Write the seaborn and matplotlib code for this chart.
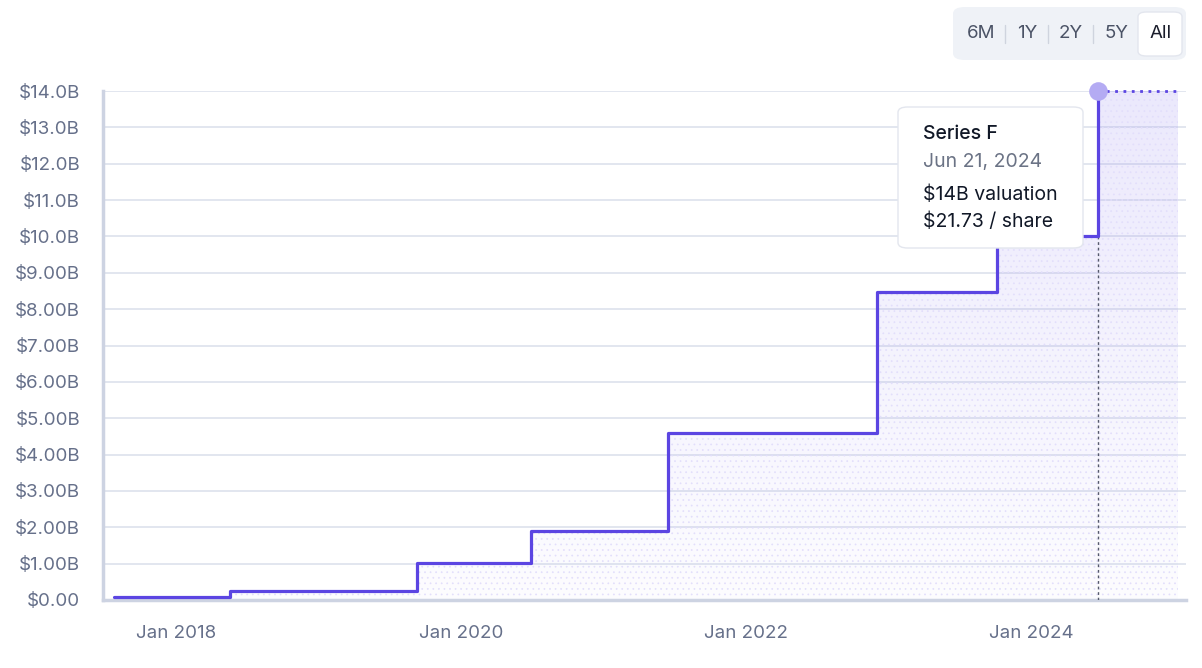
import numpy as np
import pandas as pd
import seaborn as sns
import matplotlib.pyplot as plt
import matplotlib.dates as mdates
from matplotlib.patches import FancyBboxPatch
from matplotlib.colors import to_rgb

# Funding rounds (post-money valuation, $B)
round_dates = ['2017-07-26', '2018-05-19', '2019-09-10', '2020-06-28',
               '2021-06-15', '2022-12-03', '2023-10-06', '2024-06-21']
valuations = [0.07, 0.25, 1.03, 1.90, 4.58, 8.48, 10.0, 14.0]
projection_end = '2025-01-12'

y_ticks = list(range(0, 15))
y_labels = ['$0.00', '$1.00B', '$2.00B', '$3.00B', '$4.00B', '$5.00B', '$6.00B',
            '$7.00B', '$8.00B', '$9.00B', '$10.0B', '$11.0B', '$12.0B', '$13.0B', '$14.0B']
x_tick_dates = ['2018-01-01', '2020-01-01', '2022-01-01', '2024-01-01']
x_tick_labels = ['Jan 2018', 'Jan 2020', 'Jan 2022', 'Jan 2024']
x_range = ['2017-06-28', '2025-02-01']

tooltip_title = 'Series F'
tooltip_date = 'Jun 21, 2024'
tooltip_lines = ['$14B valuation', '$21.73 / share']
range_buttons = ['6M', '1Y', '2Y', '5Y', 'All']

PURPLE = '#5b45e2'
GRID = '#dde1ec'
SPINE = '#cdd3e2'
LABEL = '#66708a'

sns.set_theme(style='white')
plt.rcParams['font.family'] = ['Inter', 'DejaVu Sans']
plt.rcParams['hatch.linewidth'] = 0.5

df = pd.DataFrame({'date': pd.to_datetime(round_dates), 'valuation': valuations})
proj = pd.DataFrame({'date': pd.to_datetime([round_dates[-1], projection_end]),
                     'valuation': [valuations[-1], valuations[-1]]})

fig = plt.figure(figsize=(12.02, 6.68), dpi=100)
ax = fig.add_axes([103 / 1202, 68 / 668, (1186 - 103) / 1202, (600 - 91) / 668])

# gradient fill under the step curve
fill_x = list(df['date']) + [pd.Timestamp(projection_end)]
fill_y = valuations + [valuations[-1]]
poly = ax.fill_between(fill_x, fill_y, step='post', facecolor='none', edgecolor='none')
r, g, b = to_rgb('#8b7bf0')
grad = np.zeros((256, 2, 4))
grad[..., 0], grad[..., 1], grad[..., 2] = r, g, b
grad[..., 3] = np.linspace(0.17, 0.02, 256)[:, None]
xl = mdates.date2num(pd.to_datetime(x_range))
im = ax.imshow(grad, extent=[xl[0], xl[1], 0, 14], origin='upper', aspect='auto', zorder=1)
im.set_clip_path(poly.get_paths()[0], transform=ax.transData)
ax.fill_between(fill_x, fill_y, step='post', facecolor='none', edgecolor='#e2defb',
                hatch='...', linewidth=0, zorder=1)

sns.lineplot(data=df, x='date', y='valuation', ax=ax, color=PURPLE, linewidth=2.3,
             drawstyle='steps-post', estimator=None, sort=False, zorder=4, clip_on=False)
sns.lineplot(data=proj, x='date', y='valuation', ax=ax, color=PURPLE, linewidth=2,
             linestyle=(0, (1, 2)), estimator=None, sort=False, zorder=4, clip_on=False)

last = df.iloc[-1]
ax.axvline(last['date'], ymin=0, ymax=1, color='#55596b', linewidth=1,
           linestyle=(0, (2, 2)), zorder=3)
ax.scatter([last['date']], [last['valuation']], s=180, color='#b4abf3', zorder=5,
           clip_on=False, linewidths=0)

ax.set_xlim(pd.to_datetime(x_range))
ax.set_ylim(0, 14)
ax.set_yticks(y_ticks)
ax.set_yticklabels(y_labels)
ax.set_xticks(pd.to_datetime(x_tick_dates))
ax.set_xticklabels(x_tick_labels)
ax.set_xlabel('')
ax.set_ylabel('')
ax.grid(axis='y', color=GRID, linewidth=1.2, zorder=0)
ax.set_axisbelow(True)
for s in ['top', 'right']:
    ax.spines[s].set_visible(False)
for s in ['left', 'bottom']:
    ax.spines[s].set_color(SPINE)
    ax.spines[s].set_linewidth(2.5)
ax.tick_params(axis='y', length=8.5, width=1.2, color=GRID, pad=8, labelsize=13.5, labelcolor=LABEL)
ax.tick_params(axis='x', length=9, width=1.2, color=SPINE, pad=9, labelsize=13.5, labelcolor=LABEL)

# tooltip
fig.patches.append(FancyBboxPatch((898 / 1202, (668 - 248) / 668), 185 / 1202, 141 / 668,
                                  boxstyle='round,pad=0,rounding_size=0.008',
                                  transform=fig.transFigure, facecolor='white',
                                  edgecolor='#e3e6ee', linewidth=1, zorder=10))
tx = 923 / 1202
fig.text(tx, 1 - 134 / 668, tooltip_title, fontsize=14, color='#111827',
         weight='medium', va='center', zorder=11)
fig.text(tx, 1 - 162 / 668, tooltip_date, fontsize=14, color='#6b7385', va='center', zorder=11)
for i, line in enumerate(tooltip_lines):
    fig.text(tx, 1 - (195 + 27 * i) / 668, line, fontsize=14, color='#111827',
             va='center', zorder=11)

# range buttons
fig.patches.append(FancyBboxPatch((953 / 1202, (668 - 60) / 668), 233 / 1202, 53 / 668,
                                  boxstyle='round,pad=0,rounding_size=0.01',
                                  transform=fig.transFigure, facecolor='#eff2f7',
                                  edgecolor='none', zorder=10))
fig.patches.append(FancyBboxPatch((1138 / 1202, (668 - 56) / 668), 44 / 1202, 44 / 668,
                                  boxstyle='round,pad=0,rounding_size=0.007',
                                  transform=fig.transFigure, facecolor='white',
                                  edgecolor='#e3e6ee', linewidth=1, zorder=11))
btn_x = [981, 1027, 1071, 1116, 1161]
for lbl, bx in zip(range_buttons, btn_x):
    fig.text(bx / 1202, 1 - 33 / 668, lbl, fontsize=13.5, ha='center', va='center',
             color='#1a1d2b' if lbl == 'All' else '#4b5366', zorder=12)
for sx in [1005, 1048, 1093]:
    fig.add_artist(plt.Line2D([sx / 1202, sx / 1202], [1 - 25 / 668, 1 - 43 / 668],
                              transform=fig.transFigure, color='#cfd4de', linewidth=1, zorder=12))

fig.savefig('out.png', dpi=100, facecolor='white')
